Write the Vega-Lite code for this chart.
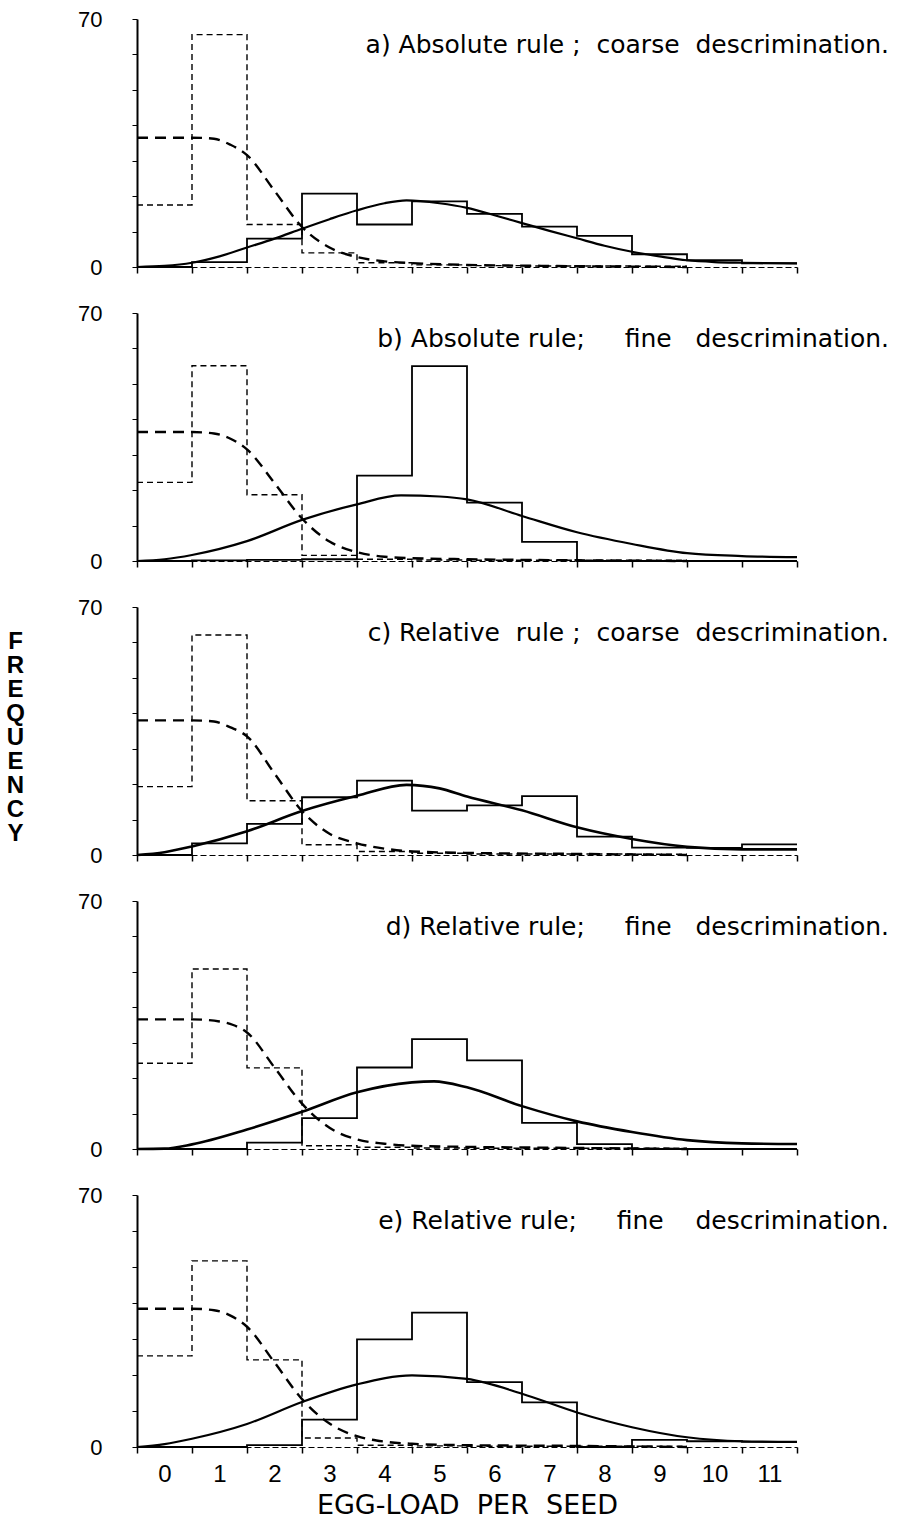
{
 "$schema": "https://vega.github.io/schema/vega-lite/v6.json",
 "background": "white",
 "padding": {"left": 5, "top": 8, "right": 5, "bottom": 2},
 "config": {"view": {"stroke": null}, "concat": {"spacing": 24}, "font": "Liberation Sans",
   "axis": {"grid": false, "domainColor": "black", "tickColor": "black", "labelColor": "black", "titleColor": "black"},
   "title": {"color": "black", "fontWeight": "normal", "fontSize": 25, "font": "DejaVu Sans", "anchor": "end", "frame": "group", "offset": -50, "dx": 92}},
 "data": {"values": [
  {"p":"a","s":"hA","x":-0.5,"y":17.5},{"p":"a","s":"hA","x":0.5,"y":65.6},{"p":"a","s":"hA","x":1.5,"y":12},{"p":"a","s":"hA","x":2.5,"y":4},{"p":"a","s":"hA","x":3.5,"y":1.2},{"p":"a","s":"hA","x":4.5,"y":0.6},{"p":"a","s":"hA","x":5.5,"y":0.4},{"p":"a","s":"hA","x":6.5,"y":0.3},{"p":"a","s":"hA","x":7.5,"y":0.3},{"p":"a","s":"hA","x":8.5,"y":0.2},{"p":"a","s":"hA","x":9.5,"y":0.2},
  {"p":"a","s":"hB","x":-0.5,"y":0},{"p":"a","s":"hB","x":0.5,"y":1.4},{"p":"a","s":"hB","x":1.5,"y":8},{"p":"a","s":"hB","x":2.5,"y":20.7},{"p":"a","s":"hB","x":3.5,"y":12},{"p":"a","s":"hB","x":4.5,"y":18.5},{"p":"a","s":"hB","x":5.5,"y":15},{"p":"a","s":"hB","x":6.5,"y":11.4},{"p":"a","s":"hB","x":7.5,"y":8.8},{"p":"a","s":"hB","x":8.5,"y":3.6},{"p":"a","s":"hB","x":9.5,"y":1.9},{"p":"a","s":"hB","x":10.5,"y":1},{"p":"a","s":"hB","x":11.5,"y":1},
  {"p":"a","s":"cA","x":-0.5,"y":36.5},{"p":"a","s":"cA","x":0.5,"y":36.5},{"p":"a","s":"cA","x":0.9,"y":36.2},{"p":"a","s":"cA","x":1.2,"y":34.5},{"p":"a","s":"cA","x":1.5,"y":31.6},{"p":"a","s":"cA","x":2,"y":21.5},{"p":"a","s":"cA","x":2.5,"y":11.3},{"p":"a","s":"cA","x":3,"y":5.5},{"p":"a","s":"cA","x":3.5,"y":2.8},{"p":"a","s":"cA","x":4,"y":1.6},{"p":"a","s":"cA","x":4.5,"y":1.1},{"p":"a","s":"cA","x":5.5,"y":0.6},{"p":"a","s":"cA","x":7,"y":0.3},{"p":"a","s":"cA","x":9.5,"y":0},
  {"p":"a","s":"cB","x":-0.5,"y":0},{"p":"a","s":"cB","x":0,"y":0.3},{"p":"a","s":"cB","x":0.5,"y":1.2},{"p":"a","s":"cB","x":1,"y":3},{"p":"a","s":"cB","x":1.5,"y":5.5},{"p":"a","s":"cB","x":2,"y":8},{"p":"a","s":"cB","x":2.5,"y":10.8},{"p":"a","s":"cB","x":3,"y":13.5},{"p":"a","s":"cB","x":3.5,"y":16},{"p":"a","s":"cB","x":4,"y":18},{"p":"a","s":"cB","x":4.4,"y":18.8},{"p":"a","s":"cB","x":5,"y":18},{"p":"a","s":"cB","x":5.5,"y":16.7},{"p":"a","s":"cB","x":6,"y":14.6},{"p":"a","s":"cB","x":6.5,"y":12.4},{"p":"a","s":"cB","x":7,"y":10.2},{"p":"a","s":"cB","x":7.5,"y":8.1},{"p":"a","s":"cB","x":8,"y":6},{"p":"a","s":"cB","x":8.5,"y":4.3},{"p":"a","s":"cB","x":9,"y":3},{"p":"a","s":"cB","x":9.5,"y":1.9},{"p":"a","s":"cB","x":10,"y":1.4},{"p":"a","s":"cB","x":10.5,"y":1.2},{"p":"a","s":"cB","x":11.5,"y":1},

  {"p":"b","s":"hA","x":-0.5,"y":22.2},{"p":"b","s":"hA","x":0.5,"y":55.1},{"p":"b","s":"hA","x":1.5,"y":18.7},{"p":"b","s":"hA","x":2.5,"y":1.6},{"p":"b","s":"hA","x":3.5,"y":0.5},{"p":"b","s":"hA","x":4.5,"y":0.3},{"p":"b","s":"hA","x":5.5,"y":0.2},{"p":"b","s":"hA","x":6.5,"y":0.2},{"p":"b","s":"hA","x":7.5,"y":0.2},{"p":"b","s":"hA","x":8.5,"y":0.2},{"p":"b","s":"hA","x":9.5,"y":0.2},
  {"p":"b","s":"hB","x":-0.5,"y":0},{"p":"b","s":"hB","x":0.5,"y":0.2},{"p":"b","s":"hB","x":1.5,"y":0.3},{"p":"b","s":"hB","x":2.5,"y":0.5},{"p":"b","s":"hB","x":3.5,"y":24.1},{"p":"b","s":"hB","x":4.5,"y":55},{"p":"b","s":"hB","x":5.5,"y":16.5},{"p":"b","s":"hB","x":6.5,"y":5.4},{"p":"b","s":"hB","x":7.5,"y":0},{"p":"b","s":"hB","x":8.5,"y":0},{"p":"b","s":"hB","x":9.5,"y":0},{"p":"b","s":"hB","x":10.5,"y":0},{"p":"b","s":"hB","x":11.5,"y":0},
  {"p":"b","s":"cA","x":-0.5,"y":36.4},{"p":"b","s":"cA","x":0.5,"y":36.4},{"p":"b","s":"cA","x":0.9,"y":36},{"p":"b","s":"cA","x":1.2,"y":34.5},{"p":"b","s":"cA","x":1.5,"y":31.5},{"p":"b","s":"cA","x":2,"y":22},{"p":"b","s":"cA","x":2.5,"y":12},{"p":"b","s":"cA","x":3,"y":5.5},{"p":"b","s":"cA","x":3.5,"y":2.5},{"p":"b","s":"cA","x":4,"y":1.2},{"p":"b","s":"cA","x":4.5,"y":0.8},{"p":"b","s":"cA","x":5.5,"y":0.5},{"p":"b","s":"cA","x":7.5,"y":0.2},{"p":"b","s":"cA","x":9.5,"y":0},
  {"p":"b","s":"cB","x":-0.5,"y":0},{"p":"b","s":"cB","x":0,"y":0.5},{"p":"b","s":"cB","x":0.5,"y":1.7},{"p":"b","s":"cB","x":1.5,"y":5.6},{"p":"b","s":"cB","x":2.5,"y":11.6},{"p":"b","s":"cB","x":3.5,"y":16},{"p":"b","s":"cB","x":4.3,"y":18.5},{"p":"b","s":"cB","x":5,"y":18.2},{"p":"b","s":"cB","x":5.5,"y":17.4},{"p":"b","s":"cB","x":6.5,"y":12.7},{"p":"b","s":"cB","x":7.5,"y":8.1},{"p":"b","s":"cB","x":8.5,"y":4.8},{"p":"b","s":"cB","x":9.5,"y":2.2},{"p":"b","s":"cB","x":10.5,"y":1.4},{"p":"b","s":"cB","x":11.5,"y":1.1},

  {"p":"c","s":"hA","x":-0.5,"y":19.3},{"p":"c","s":"hA","x":0.5,"y":62.1},{"p":"c","s":"hA","x":1.5,"y":15.3},{"p":"c","s":"hA","x":2.5,"y":2.9},{"p":"c","s":"hA","x":3.5,"y":1},{"p":"c","s":"hA","x":4.5,"y":0.5},{"p":"c","s":"hA","x":5.5,"y":0.3},{"p":"c","s":"hA","x":6.5,"y":0.3},{"p":"c","s":"hA","x":7.5,"y":0.3},{"p":"c","s":"hA","x":8.5,"y":0.2},{"p":"c","s":"hA","x":9.5,"y":0.2},
  {"p":"c","s":"hB","x":-0.5,"y":0},{"p":"c","s":"hB","x":0.5,"y":3.3},{"p":"c","s":"hB","x":1.5,"y":8.8},{"p":"c","s":"hB","x":2.5,"y":16.3},{"p":"c","s":"hB","x":3.5,"y":21},{"p":"c","s":"hB","x":4.5,"y":12.5},{"p":"c","s":"hB","x":5.5,"y":14},{"p":"c","s":"hB","x":6.5,"y":16.6},{"p":"c","s":"hB","x":7.5,"y":5.2},{"p":"c","s":"hB","x":8.5,"y":2.1},{"p":"c","s":"hB","x":9.5,"y":2},{"p":"c","s":"hB","x":10.5,"y":3},{"p":"c","s":"hB","x":11.5,"y":3},
  {"p":"c","s":"cA","x":-0.5,"y":38},{"p":"c","s":"cA","x":0.5,"y":38},{"p":"c","s":"cA","x":0.9,"y":37.7},{"p":"c","s":"cA","x":1.2,"y":36},{"p":"c","s":"cA","x":1.5,"y":33.5},{"p":"c","s":"cA","x":2,"y":23},{"p":"c","s":"cA","x":2.5,"y":12.4},{"p":"c","s":"cA","x":3,"y":6},{"p":"c","s":"cA","x":3.5,"y":3.3},{"p":"c","s":"cA","x":4,"y":1.8},{"p":"c","s":"cA","x":4.5,"y":1},{"p":"c","s":"cA","x":5.5,"y":0.6},{"p":"c","s":"cA","x":7.5,"y":0.3},{"p":"c","s":"cA","x":9.5,"y":0},
  {"p":"c","s":"cB","x":-0.5,"y":0},{"p":"c","s":"cB","x":0,"y":0.8},{"p":"c","s":"cB","x":0.5,"y":2.4},{"p":"c","s":"cB","x":1.5,"y":6.7},{"p":"c","s":"cB","x":2.5,"y":12.4},{"p":"c","s":"cB","x":3.5,"y":16.7},{"p":"c","s":"cB","x":4.4,"y":19.8},{"p":"c","s":"cB","x":5,"y":18.8},{"p":"c","s":"cB","x":5.5,"y":16.5},{"p":"c","s":"cB","x":6.5,"y":12.6},{"p":"c","s":"cB","x":7.5,"y":7.8},{"p":"c","s":"cB","x":8.5,"y":4.5},{"p":"c","s":"cB","x":9.5,"y":2.3},{"p":"c","s":"cB","x":10.5,"y":1.6},{"p":"c","s":"cB","x":11.5,"y":1.6},

  {"p":"d","s":"hA","x":-0.5,"y":24.2},{"p":"d","s":"hA","x":0.5,"y":50.8},{"p":"d","s":"hA","x":1.5,"y":22.9},{"p":"d","s":"hA","x":2.5,"y":0.9},{"p":"d","s":"hA","x":3.5,"y":0.5},{"p":"d","s":"hA","x":4.5,"y":0.3},{"p":"d","s":"hA","x":5.5,"y":0.2},{"p":"d","s":"hA","x":6.5,"y":0.2},{"p":"d","s":"hA","x":7.5,"y":0.2},{"p":"d","s":"hA","x":8.5,"y":0.2},{"p":"d","s":"hA","x":9.5,"y":0.2},
  {"p":"d","s":"hB","x":-0.5,"y":0},{"p":"d","s":"hB","x":0.5,"y":0},{"p":"d","s":"hB","x":1.5,"y":1.8},{"p":"d","s":"hB","x":2.5,"y":8.7},{"p":"d","s":"hB","x":3.5,"y":23},{"p":"d","s":"hB","x":4.5,"y":31},{"p":"d","s":"hB","x":5.5,"y":25},{"p":"d","s":"hB","x":6.5,"y":7.4},{"p":"d","s":"hB","x":7.5,"y":1.4},{"p":"d","s":"hB","x":8.5,"y":0},{"p":"d","s":"hB","x":9.5,"y":0},{"p":"d","s":"hB","x":10.5,"y":0},{"p":"d","s":"hB","x":11.5,"y":0},
  {"p":"d","s":"cA","x":-0.5,"y":36.6},{"p":"d","s":"cA","x":0.5,"y":36.6},{"p":"d","s":"cA","x":1,"y":36},{"p":"d","s":"cA","x":1.25,"y":35},{"p":"d","s":"cA","x":1.5,"y":32.9},{"p":"d","s":"cA","x":2,"y":23},{"p":"d","s":"cA","x":2.5,"y":12.8},{"p":"d","s":"cA","x":3,"y":6},{"p":"d","s":"cA","x":3.5,"y":2.7},{"p":"d","s":"cA","x":4,"y":1.5},{"p":"d","s":"cA","x":4.5,"y":0.9},{"p":"d","s":"cA","x":5.5,"y":0.6},{"p":"d","s":"cA","x":7.5,"y":0.3},{"p":"d","s":"cA","x":9.5,"y":0},
  {"p":"d","s":"cB","x":-0.5,"y":0},{"p":"d","s":"cB","x":0,"y":0.1},{"p":"d","s":"cB","x":0.5,"y":1.3},{"p":"d","s":"cB","x":1.5,"y":5.5},{"p":"d","s":"cB","x":2.5,"y":10.5},{"p":"d","s":"cB","x":3.5,"y":16},{"p":"d","s":"cB","x":4.5,"y":18.8},{"p":"d","s":"cB","x":4.9,"y":19.1},{"p":"d","s":"cB","x":5.5,"y":17.4},{"p":"d","s":"cB","x":6.5,"y":12.1},{"p":"d","s":"cB","x":7.5,"y":7.8},{"p":"d","s":"cB","x":8.5,"y":4.8},{"p":"d","s":"cB","x":9.5,"y":2.5},{"p":"d","s":"cB","x":10.5,"y":1.6},{"p":"d","s":"cB","x":11.5,"y":1.4},

  {"p":"e","s":"hA","x":-0.5,"y":25.3},{"p":"e","s":"hA","x":0.5,"y":51.7},{"p":"e","s":"hA","x":1.5,"y":24.2},{"p":"e","s":"hA","x":2.5,"y":2.5},{"p":"e","s":"hA","x":3.5,"y":0.5},{"p":"e","s":"hA","x":4.5,"y":0.3},{"p":"e","s":"hA","x":5.5,"y":0.2},{"p":"e","s":"hA","x":6.5,"y":0.2},{"p":"e","s":"hA","x":7.5,"y":0.2},{"p":"e","s":"hA","x":8.5,"y":0.2},{"p":"e","s":"hA","x":9.5,"y":0.2},
  {"p":"e","s":"hB","x":-0.5,"y":0},{"p":"e","s":"hB","x":0.5,"y":0},{"p":"e","s":"hB","x":1.5,"y":0.5},{"p":"e","s":"hB","x":2.5,"y":7.6},{"p":"e","s":"hB","x":3.5,"y":29.9},{"p":"e","s":"hB","x":4.5,"y":37.3},{"p":"e","s":"hB","x":5.5,"y":18},{"p":"e","s":"hB","x":6.5,"y":12.4},{"p":"e","s":"hB","x":7.5,"y":0},{"p":"e","s":"hB","x":8.5,"y":2},{"p":"e","s":"hB","x":9.5,"y":1.6},{"p":"e","s":"hB","x":10.5,"y":1.4},{"p":"e","s":"hB","x":11.5,"y":1.4},
  {"p":"e","s":"cA","x":-0.5,"y":38.4},{"p":"e","s":"cA","x":0.5,"y":38.4},{"p":"e","s":"cA","x":0.9,"y":38},{"p":"e","s":"cA","x":1.2,"y":36.5},{"p":"e","s":"cA","x":1.5,"y":33.4},{"p":"e","s":"cA","x":2,"y":23.5},{"p":"e","s":"cA","x":2.5,"y":13.3},{"p":"e","s":"cA","x":3,"y":6.5},{"p":"e","s":"cA","x":3.5,"y":3},{"p":"e","s":"cA","x":4,"y":1.5},{"p":"e","s":"cA","x":4.5,"y":0.9},{"p":"e","s":"cA","x":5.5,"y":0.5},{"p":"e","s":"cA","x":7.5,"y":0.3},{"p":"e","s":"cA","x":9.5,"y":0},
  {"p":"e","s":"cB","x":-0.5,"y":0},{"p":"e","s":"cB","x":0,"y":0.8},{"p":"e","s":"cB","x":0.5,"y":2.3},{"p":"e","s":"cB","x":1.5,"y":6.4},{"p":"e","s":"cB","x":2.5,"y":12.5},{"p":"e","s":"cB","x":3.5,"y":17.4},{"p":"e","s":"cB","x":4.5,"y":19.9},{"p":"e","s":"cB","x":5.5,"y":18.9},{"p":"e","s":"cB","x":6.5,"y":14.8},{"p":"e","s":"cB","x":7.5,"y":9.6},{"p":"e","s":"cB","x":8.5,"y":5.5},{"p":"e","s":"cB","x":9.5,"y":2.7},{"p":"e","s":"cB","x":10.5,"y":1.6},{"p":"e","s":"cB","x":11.5,"y":1.4}
 ]},
 "vconcat": [
  {"width": 660, "height": 248,
   "title": {"text": "a) Absolute rule ;\u00a0 coarse\u00a0 descrimination."},
   "transform": [{"filter": "datum.p == 'a'"}],
   "encoding": {
    "x": {"field": "x", "type": "quantitative", "scale": {"domain": [-0.5, 11.5], "nice": false, "zero": false},
      "axis": {"values": [-0.5,0.5,1.5,2.5,3.5,4.5,5.5,6.5,7.5,8.5,9.5,10.5,11.5], "labels": false, "title": null, "tickSize": 6, "tickWidth": 1.5, "domainWidth": 1, "domainDash": [6,3]}},
    "y": {"field": "y", "type": "quantitative", "scale": {"domain": [0, 70], "nice": false},
      "axis": {"values": [0,10,20,30,40,50,60,70], "labelExpr": "datum.value == 0 || datum.value == 70 ? datum.label : ''", "title": null, "tickSize": 5, "domainWidth": 2, "labelFontSize": 22, "labelPadding": 30, "labelOverlap": false, "labelFlush": false}}
   },
   "layer": [
    {"transform": [{"filter": "datum.s == 'hA'"}], "mark": {"type": "line", "interpolate": "step-after", "strokeDash": [6,4], "strokeWidth": 1.4, "color": "black"}},
    {"transform": [{"filter": "datum.s == 'hB'"}], "mark": {"type": "line", "interpolate": "step-after", "strokeWidth": 1.8, "color": "black"}},
    {"transform": [{"filter": "datum.s == 'cA'"}], "mark": {"type": "line", "interpolate": "monotone", "strokeDash": [11,7], "strokeWidth": 2.4, "color": "black"}},
    {"transform": [{"filter": "datum.s == 'cB'"}], "mark": {"type": "line", "interpolate": "monotone", "strokeWidth": 2.2, "color": "black"}}
   ]},
  {"width": 660, "height": 248,
   "title": {"text": "b) Absolute rule;\u00a0\u00a0\u00a0\u00a0 fine\u00a0\u00a0 descrimination."},
   "transform": [{"filter": "datum.p == 'b'"}],
   "encoding": {
    "x": {"field": "x", "type": "quantitative", "scale": {"domain": [-0.5, 11.5], "nice": false, "zero": false},
      "axis": {"values": [-0.5,0.5,1.5,2.5,3.5,4.5,5.5,6.5,7.5,8.5,9.5,10.5,11.5], "labels": false, "title": null, "tickSize": 6, "tickWidth": 1.5, "domainWidth": 1, "domainDash": [6,3]}},
    "y": {"field": "y", "type": "quantitative", "scale": {"domain": [0, 70], "nice": false},
      "axis": {"values": [0,10,20,30,40,50,60,70], "labelExpr": "datum.value == 0 || datum.value == 70 ? datum.label : ''", "title": null, "tickSize": 5, "domainWidth": 2, "labelFontSize": 22, "labelPadding": 30, "labelOverlap": false, "labelFlush": false}}
   },
   "layer": [
    {"transform": [{"filter": "datum.s == 'hA'"}], "mark": {"type": "line", "interpolate": "step-after", "strokeDash": [6,4], "strokeWidth": 1.4, "color": "black"}},
    {"transform": [{"filter": "datum.s == 'hB'"}], "mark": {"type": "line", "interpolate": "step-after", "strokeWidth": 1.8, "color": "black"}},
    {"transform": [{"filter": "datum.s == 'cA'"}], "mark": {"type": "line", "interpolate": "monotone", "strokeDash": [11,7], "strokeWidth": 2.4, "color": "black"}},
    {"transform": [{"filter": "datum.s == 'cB'"}], "mark": {"type": "line", "interpolate": "monotone", "strokeWidth": 2.2, "color": "black"}}
   ]},
  {"width": 660, "height": 248,
   "title": {"text": "c) Relative\u00a0 rule ;\u00a0 coarse\u00a0 descrimination."},
   "transform": [{"filter": "datum.p == 'c'"}],
   "encoding": {
    "x": {"field": "x", "type": "quantitative", "scale": {"domain": [-0.5, 11.5], "nice": false, "zero": false},
      "axis": {"values": [-0.5,0.5,1.5,2.5,3.5,4.5,5.5,6.5,7.5,8.5,9.5,10.5,11.5], "labels": false, "title": null, "tickSize": 6, "tickWidth": 1.5, "domainWidth": 1, "domainDash": [6,3]}},
    "y": {"field": "y", "type": "quantitative", "scale": {"domain": [0, 70], "nice": false},
      "axis": {"values": [0,10,20,30,40,50,60,70], "labelExpr": "datum.value == 0 || datum.value == 70 ? datum.label : ''", "tickSize": 5, "domainWidth": 2, "labelFontSize": 22, "labelPadding": 30, "labelOverlap": false, "labelFlush": false,
        "title": ["F","R","E","Q","U","E","N","C","Y"], "titleAngle": 0, "titleX": -122, "titleY": 22, "titleAlign": "center", "titleBaseline": "top", "titleFontSize": 24, "titleFontWeight": "bold", "titleLineHeight": 24}}
   },
   "layer": [
    {"transform": [{"filter": "datum.s == 'hA'"}], "mark": {"type": "line", "interpolate": "step-after", "strokeDash": [6,4], "strokeWidth": 1.4, "color": "black"}},
    {"transform": [{"filter": "datum.s == 'hB'"}], "mark": {"type": "line", "interpolate": "step-after", "strokeWidth": 1.8, "color": "black"}},
    {"transform": [{"filter": "datum.s == 'cA'"}], "mark": {"type": "line", "interpolate": "monotone", "strokeDash": [11,7], "strokeWidth": 2.4, "color": "black"}},
    {"transform": [{"filter": "datum.s == 'cB'"}], "mark": {"type": "line", "interpolate": "monotone", "strokeWidth": 2.6, "color": "black"}}
   ]},
  {"width": 660, "height": 248,
   "title": {"text": "d) Relative rule;\u00a0\u00a0\u00a0\u00a0 fine\u00a0\u00a0 descrimination."},
   "transform": [{"filter": "datum.p == 'd'"}],
   "encoding": {
    "x": {"field": "x", "type": "quantitative", "scale": {"domain": [-0.5, 11.5], "nice": false, "zero": false},
      "axis": {"values": [-0.5,0.5,1.5,2.5,3.5,4.5,5.5,6.5,7.5,8.5,9.5,10.5,11.5], "labels": false, "title": null, "tickSize": 6, "tickWidth": 1.5, "domainWidth": 1, "domainDash": [6,3]}},
    "y": {"field": "y", "type": "quantitative", "scale": {"domain": [0, 70], "nice": false},
      "axis": {"values": [0,10,20,30,40,50,60,70], "labelExpr": "datum.value == 0 || datum.value == 70 ? datum.label : ''", "title": null, "tickSize": 5, "domainWidth": 2, "labelFontSize": 22, "labelPadding": 30, "labelOverlap": false, "labelFlush": false}}
   },
   "layer": [
    {"transform": [{"filter": "datum.s == 'hA'"}], "mark": {"type": "line", "interpolate": "step-after", "strokeDash": [6,4], "strokeWidth": 1.4, "color": "black"}},
    {"transform": [{"filter": "datum.s == 'hB'"}], "mark": {"type": "line", "interpolate": "step-after", "strokeWidth": 1.8, "color": "black"}},
    {"transform": [{"filter": "datum.s == 'cA'"}], "mark": {"type": "line", "interpolate": "monotone", "strokeDash": [11,7], "strokeWidth": 2.4, "color": "black"}},
    {"transform": [{"filter": "datum.s == 'cB'"}], "mark": {"type": "line", "interpolate": "monotone", "strokeWidth": 2.6, "color": "black"}}
   ]},
  {"width": 660, "height": 252,
   "title": {"text": "e) Relative rule;\u00a0\u00a0\u00a0\u00a0 fine\u00a0\u00a0\u00a0 descrimination."},
   "transform": [{"filter": "datum.p == 'e'"}],
   "encoding": {
    "x": {"field": "x", "type": "quantitative", "scale": {"domain": [-0.5, 11.5], "nice": false, "zero": false},
      "axis": {"values": [-0.5,0.5,1.5,2.5,3.5,4.5,5.5,6.5,7.5,8.5,9.5,10.5,11.5], "labelExpr": "datum.value < 11 ? format(datum.value + 0.5, 'd') : ''", "labelOffset": 27.5, "labelFontSize": 24, "labelPadding": 9, "labelOverlap": false, "labelFlush": false, "tickSize": 6, "tickWidth": 1.5, "domainWidth": 1, "domainDash": [6,3],
        "title": "EGG-LOAD\u00a0 PER\u00a0 SEED", "titleFont": "DejaVu Sans", "titleFontSize": 27, "titleFontWeight": "normal", "titlePadding": 6}},
    "y": {"field": "y", "type": "quantitative", "scale": {"domain": [0, 70], "nice": false},
      "axis": {"values": [0,10,20,30,40,50,60,70], "labelExpr": "datum.value == 0 || datum.value == 70 ? datum.label : ''", "title": null, "tickSize": 5, "domainWidth": 2, "labelFontSize": 22, "labelPadding": 30, "labelOverlap": false, "labelFlush": false}}
   },
   "layer": [
    {"transform": [{"filter": "datum.s == 'hA'"}], "mark": {"type": "line", "interpolate": "step-after", "strokeDash": [6,4], "strokeWidth": 1.4, "color": "black"}},
    {"transform": [{"filter": "datum.s == 'hB'"}], "mark": {"type": "line", "interpolate": "step-after", "strokeWidth": 1.8, "color": "black"}},
    {"transform": [{"filter": "datum.s == 'cA'"}], "mark": {"type": "line", "interpolate": "monotone", "strokeDash": [11,7], "strokeWidth": 2.4, "color": "black"}},
    {"transform": [{"filter": "datum.s == 'cB'"}], "mark": {"type": "line", "interpolate": "monotone", "strokeWidth": 2.2, "color": "black"}}
   ]}
 ]
}
